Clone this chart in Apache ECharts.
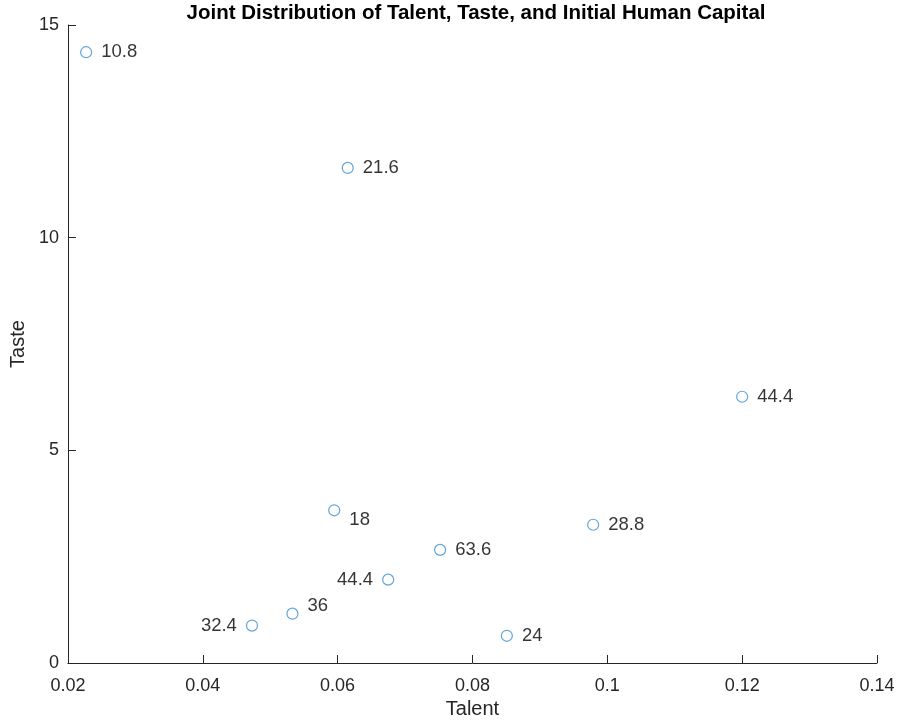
<!DOCTYPE html>
<html lang="en">
<head>
    <meta charset="UTF-8">
    <title>Joint Distribution of Talent, Taste, and Initial Human Capital</title>
    <script src="https://cdn.jsdelivr.net/npm/echarts@6/dist/echarts.min.js"></script>
    <style>
        html, body { margin: 0; padding: 0; background: #fff; }
        #main { width: 898px; height: 726px; }
    </style>
</head>
<body>
    <div id="main"></div>
    <script>
        // data
        var talent  = [0.0227, 0.0615, 0.1200, 0.0595, 0.0752, 0.0675, 0.0533, 0.0473, 0.0851, 0.0979];
        var taste   = [14.36, 11.64, 6.26, 3.59, 2.66, 1.96, 1.16, 0.88, 0.64, 3.25];
        var capital = ['10.8', '21.6', '44.4', '18', '63.6', '44.4', '36', '32.4', '24', '28.8'];

        var xTicks = { min: 0.02, max: 0.14, step: 0.02 };
        var yTicks = { min: 0, max: 15, step: 5 };

        var axisColor = '#262626';
        var font = 'Liberation Sans, Helvetica, Arial, sans-serif';

        // where each text label sits relative to its marker
        function labelFor(i) {
            var lbl = {
                show: true, position: 'right', distance: 9, formatter: capital[i],
                fontFamily: font, fontSize: 18.5, color: '#000'
            };
            if (i === 3) lbl.offset = [0, 10];
            if (i === 6) lbl.offset = [0, -8];
            if (i === 5 || i === 7) lbl.position = 'left';
            return lbl;
        }

        var points = talent.map(function (t, i) {
            return { value: [t, taste[i]], label: labelFor(i) };
        });

        var myChart = echarts.init(document.getElementById('main'));
        myChart.setOption({
            backgroundColor: '#fff',
            animation: false,
            title: {
                text: 'Joint Distribution of Talent, Taste, and Initial Human Capital',
                left: 471,
                textAlign: 'center',
                top: -2,
                textStyle: { fontFamily: font, fontSize: 20.5, fontWeight: 'bold', color: '#000' }
            },
            grid: { left: 67, right: 21, top: 25, bottom: 63 },
            xAxis: {
                type: 'value',
                min: xTicks.min, max: xTicks.max, interval: xTicks.step,
                name: 'Talent', nameLocation: 'middle', nameGap: 34,
                nameTextStyle: { fontFamily: font, fontSize: 20, color: axisColor },
                axisLine: { onZero: false, lineStyle: { color: axisColor, width: 1 } },
                axisTick: { inside: true, length: 8, lineStyle: { color: axisColor } },
                axisLabel: {
                    fontFamily: font, fontSize: 18, color: axisColor, margin: 14,
                    formatter: function (v) { return String(parseFloat(v.toFixed(3))); }
                },
                splitLine: { show: false }
            },
            yAxis: {
                type: 'value',
                min: yTicks.min, max: yTicks.max, interval: yTicks.step,
                name: 'Taste', nameLocation: 'middle', nameGap: 34,
                nameTextStyle: { fontFamily: font, fontSize: 20, color: axisColor },
                axisLine: { show: true, onZero: false, lineStyle: { color: axisColor, width: 1 } },
                axisTick: { show: true, inside: true, length: 8, lineStyle: { color: axisColor } },
                axisLabel: { fontFamily: font, fontSize: 18, color: axisColor, margin: 9 },
                splitLine: { show: false }
            },
            series: [{
                type: 'scatter',
                symbol: 'circle',
                symbolSize: 11,
                itemStyle: { color: 'rgba(0,0,0,0)', borderColor: '#3a8fd0', borderWidth: 1.2 },
                emphasis: { disabled: true },
                data: points
            }]
        });
    </script>
</body>
</html>
